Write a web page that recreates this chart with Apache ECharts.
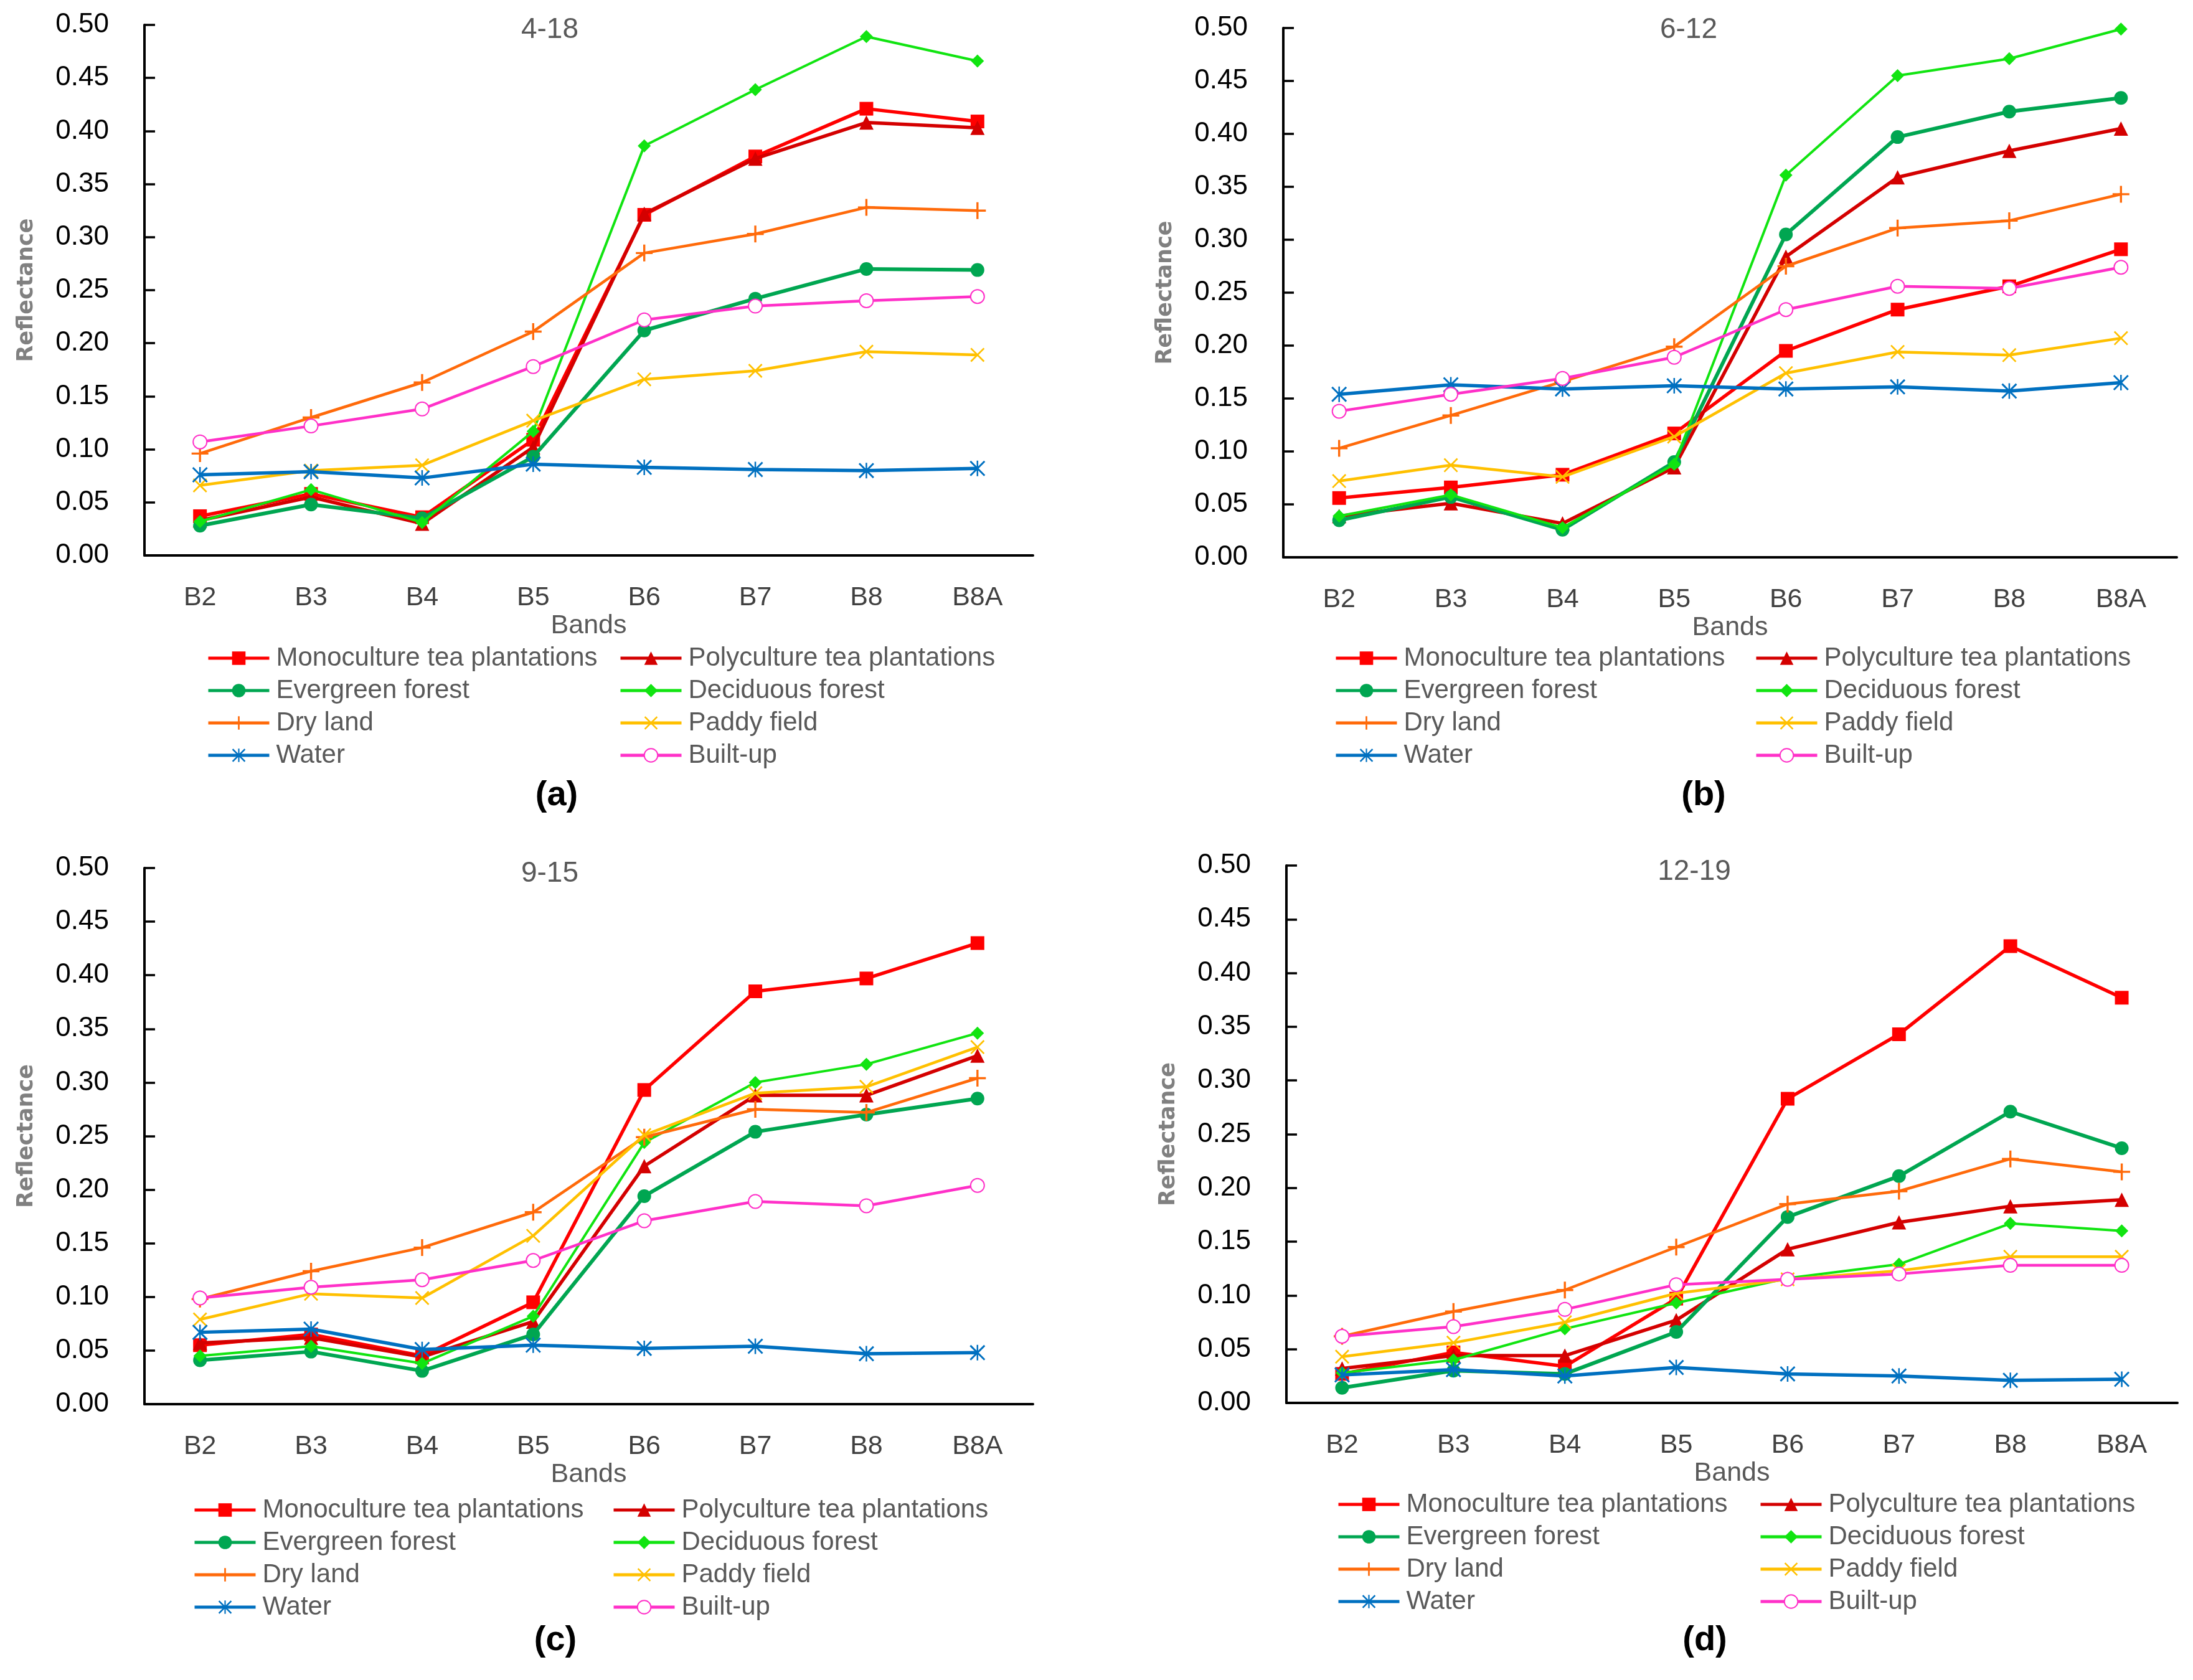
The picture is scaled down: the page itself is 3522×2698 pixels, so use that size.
<!DOCTYPE html>
<html><head><meta charset="utf-8">
<script src="https://cdn.jsdelivr.net/npm/echarts@6/dist/echarts.min.js"></script>
<style>html,body{margin:0;padding:0;background:#fff}#c{width:3522px;height:2698px}</style>
</head><body><div id="c"></div>
<script>
// ---------------- data ----------------
const bands = ['B2', 'B3', 'B4', 'B5', 'B6', 'B7', 'B8', 'B8A'];
const classNames = ['Monoculture tea plantations', 'Polyculture tea plantations', 'Evergreen forest',
  'Deciduous forest', 'Dry land', 'Paddy field', 'Water', 'Built-up'];
const panelTitles = ['4-18', '6-12', '9-15', '12-19'];
const panelLetters = ['(a)', '(b)', '(c)', '(d)'];

// (a) 4-18
const a_mono  = [0.037, 0.058, 0.036, 0.109, 0.321, 0.376, 0.421, 0.409];
const a_poly  = [0.033, 0.055, 0.030, 0.102, 0.322, 0.374, 0.408, 0.403];
const a_ever  = [0.028, 0.048, 0.035, 0.093, 0.212, 0.242, 0.270, 0.269];
const a_deci  = [0.032, 0.062, 0.031, 0.117, 0.386, 0.439, 0.489, 0.466];
const a_dry   = [0.096, 0.130, 0.163, 0.211, 0.285, 0.303, 0.328, 0.325];
const a_paddy = [0.066, 0.080, 0.085, 0.127, 0.166, 0.174, 0.192, 0.189];
const a_water = [0.076, 0.079, 0.073, 0.086, 0.083, 0.081, 0.080, 0.082];
const a_built = [0.107, 0.122, 0.138, 0.178, 0.222, 0.235, 0.240, 0.244];

// (b) 6-12
const b_mono  = [0.056, 0.066, 0.078, 0.117, 0.195, 0.234, 0.256, 0.291];
const b_poly  = [0.039, 0.051, 0.032, 0.085, 0.284, 0.359, 0.384, 0.405];
const b_ever  = [0.035, 0.057, 0.026, 0.090, 0.305, 0.397, 0.421, 0.434];
const b_deci  = [0.039, 0.059, 0.028, 0.088, 0.361, 0.455, 0.471, 0.499];
const b_dry   = [0.103, 0.134, 0.166, 0.199, 0.275, 0.311, 0.318, 0.343];
const b_paddy = [0.072, 0.087, 0.076, 0.114, 0.174, 0.194, 0.191, 0.207];
const b_water = [0.154, 0.163, 0.159, 0.162, 0.159, 0.161, 0.157, 0.165];
const b_built = [0.138, 0.154, 0.169, 0.189, 0.234, 0.256, 0.254, 0.274];

// (c) 9-15
const c_mono  = [0.055, 0.065, 0.045, 0.095, 0.293, 0.385, 0.397, 0.430];
const c_poly  = [0.057, 0.062, 0.044, 0.077, 0.222, 0.288, 0.288, 0.325];
const c_ever  = [0.041, 0.049, 0.031, 0.065, 0.194, 0.254, 0.270, 0.285];
const c_deci  = [0.045, 0.054, 0.038, 0.082, 0.244, 0.300, 0.317, 0.346];
const c_dry   = [0.098, 0.124, 0.146, 0.179, 0.249, 0.275, 0.272, 0.304];
const c_paddy = [0.079, 0.103, 0.099, 0.157, 0.251, 0.290, 0.296, 0.333];
const c_water = [0.067, 0.070, 0.051, 0.055, 0.052, 0.054, 0.047, 0.048];
const c_built = [0.099, 0.109, 0.116, 0.134, 0.171, 0.189, 0.185, 0.204];

// (d) 12-19
const d_mono  = [0.027, 0.047, 0.034, 0.097, 0.283, 0.343, 0.425, 0.377];
const d_poly  = [0.032, 0.044, 0.044, 0.077, 0.143, 0.168, 0.183, 0.189];
const d_ever  = [0.014, 0.030, 0.027, 0.066, 0.173, 0.211, 0.271, 0.237];
const d_deci  = [0.028, 0.040, 0.069, 0.093, 0.116, 0.129, 0.167, 0.160];
const d_dry   = [0.062, 0.085, 0.105, 0.145, 0.185, 0.197, 0.227, 0.215];
const d_paddy = [0.043, 0.056, 0.075, 0.102, 0.115, 0.123, 0.136, 0.136];
const d_water = [0.026, 0.031, 0.025, 0.033, 0.027, 0.025, 0.021, 0.022];
const d_built = [0.062, 0.071, 0.087, 0.110, 0.115, 0.120, 0.128, 0.128];

const panelData = [
  [a_mono, a_poly, a_ever, a_deci, a_dry, a_paddy, a_water, a_built],
  [b_mono, b_poly, b_ever, b_deci, b_dry, b_paddy, b_water, b_built],
  [c_mono, c_poly, c_ever, c_deci, c_dry, c_paddy, c_water, c_built],
  [d_mono, d_poly, d_ever, d_deci, d_dry, d_paddy, d_water, d_built]
];

// ---------------- styles ----------------
const FONT = 'Liberation Sans, Arial, sans-serif';
const PLUS = 'path://M10.5,0H13.5V10.5H24V13.5H13.5V24H10.5V13.5H0V10.5H10.5Z';
const CROSS = 'path://M0,2L2,0L24,22L22,24Z M22,0L24,2L2,24L0,22Z';
const STAR = 'path://M0,2L2,0L24,22L22,24Z M22,0L24,2L2,24L0,22Z M10.8,0H13.2V24H10.8Z';

const styles = [
  { color: '#FF0000', symbol: 'rect', size: 22, width: 5.5 },
  { color: '#D40000', symbol: 'triangle', size: 23, width: 5.5 },
  { color: '#00A651', symbol: 'circle', size: 22, width: 6 },
  { color: '#11E411', symbol: 'diamond', size: 21, width: 4 },
  { color: '#FF6A0A', symbol: PLUS, size: 27, width: 4.5 },
  { color: '#FFC000', symbol: CROSS, size: 23, width: 4.5 },
  { color: '#0070C0', symbol: STAR, size: 25, width: 5.5 },
  { color: '#FF30C8', symbol: 'emptyCircle', size: 22, width: 4.5 }
];

const grids = [
  { left: 232, top: 40, width: 1427, height: 852 },
  { left: 2061, top: 45, width: 1435, height: 850 },
  { left: 232, top: 1394, width: 1427, height: 861 },
  { left: 2066, top: 1390, width: 1431, height: 863 }
];

const titlePos = [[883, 48], [2712, 48], [883, 1403], [2721, 1400]];
const letterPos = [[894, 1278], [2736, 1278], [892, 2635], [2738, 2635]];
const legendPos = [
  [[332, 1035], [994, 1035]],
  [[2143, 1035], [2818, 1035]],
  [[310, 2403], [983, 2403]],
  [[2147, 2394], [2825, 2394]]
];

const xAxes = [], yAxes = [], series = [], legends = [], graphics = [];
for (let p = 0; p < 4; p++) {
  xAxes.push({
    type: 'category', gridIndex: p, data: bands, boundaryGap: true,
    axisLine: { lineStyle: { color: '#000', width: 4 } },
    axisTick: { alignWithLabel: true, length: 15, lineStyle: { color: '#000', width: 3.5 } },
    axisLabel: { margin: 47, fontFamily: FONT, fontSize: 43, color: '#404040' },
    name: 'Bands', nameLocation: 'middle', nameGap: 92,
    nameTextStyle: { fontFamily: FONT, fontSize: 43, color: '#595959' }
  });
  yAxes.push({
    type: 'value', gridIndex: p, min: 0, max: 0.5, interval: 0.05,
    axisLine: { show: true, lineStyle: { color: '#000', width: 4 } },
    axisTick: { show: true, inside: true, length: 17, lineStyle: { color: '#000', width: 3.5 } },
    splitLine: { show: false },
    axisLabel: { margin: 57, fontFamily: FONT, fontSize: 44, color: '#000', formatter: v => v.toFixed(2) },
    name: 'Reflectance', nameLocation: 'middle', nameGap: 172,
    nameTextStyle: { fontFamily: 'DejaVu Sans', fontWeight: 'bold', fontSize: 35, color: '#808080' }
  });
  for (let k = 0; k < 8; k++) {
    const s = styles[k];
    series.push({
      type: 'line', name: classNames[k], xAxisIndex: p, yAxisIndex: p,
      data: panelData[p][k], symbol: s.symbol, symbolSize: s.size,
      showAllSymbol: true,
      lineStyle: { color: s.color, width: s.width },
      itemStyle: s.symbol === 'emptyCircle'
        ? { color: s.color, borderColor: s.color, borderWidth: 4 }
        : { color: s.color, borderWidth: 0 },
      emphasis: { disabled: true },
      z: 2 + k
    });
  }
  const cols = [[0, 2, 4, 6], [1, 3, 5, 7]];
  for (let c = 0; c < 2; c++) {
    legends.push({
      orient: 'vertical', left: legendPos[p][c][0], top: legendPos[p][c][1],
      itemWidth: 98, itemHeight: 27, itemGap: 8, selectedMode: false,
      padding: 0,
      lineStyle: { width: 5 },
      data: cols[c].map(i => classNames[i]),
      textStyle: { fontFamily: FONT, fontSize: 42, color: '#595959', lineHeight: 44, padding: [0, 0, 0, 6] }
    });
  }
  graphics.push({
    type: 'text', x: titlePos[p][0], y: titlePos[p][1],
    style: { text: panelTitles[p], fontFamily: FONT, fontSize: 46, fill: '#595959', align: 'center', verticalAlign: 'middle' }
  });
  graphics.push({
    type: 'text', x: letterPos[p][0], y: letterPos[p][1],
    style: { text: panelLetters[p], fontFamily: FONT, fontWeight: 'bold', fontSize: 56, fill: '#000', align: 'center', verticalAlign: 'middle' }
  });
}

const chart = echarts.init(document.getElementById('c'), null, { renderer: 'canvas', width: 3522, height: 2698 });
chart.setOption({
  backgroundColor: '#fff',
  animation: false,
  grid: grids,
  xAxis: xAxes,
  yAxis: yAxes,
  legend: legends,
  series: series,
  graphic: graphics
});
</script>
</body></html>
